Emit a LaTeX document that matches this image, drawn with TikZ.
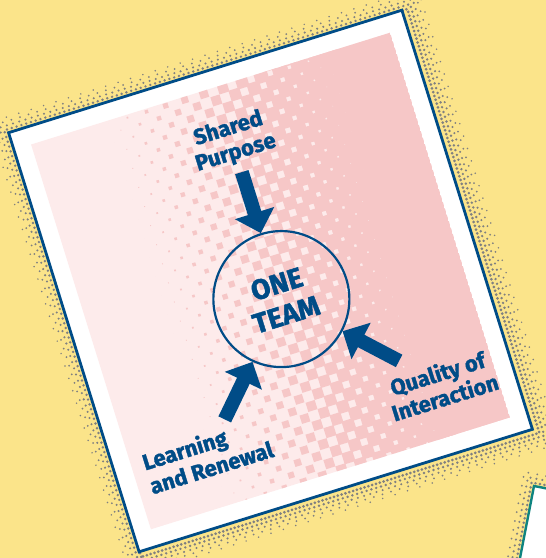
\documentclass[tikz,border=0pt]{standalone}
\usepackage{fontspec}
\setmainfont{Fira Sans}[BoldFeatures={FakeBold=1.6}]
\usetikzlibrary{arrows.meta}
\definecolor{teamblue}{RGB}{0,76,135}
\definecolor{paper}{RGB}{251,228,138}
\definecolor{pinkdark}{RGB}{246,199,199}
\definecolor{pinklight}{RGB}{253,235,235}
\definecolor{shadowgray}{RGB}{128,128,128}
\definecolor{cardteal}{RGB}{14,132,128}
\begin{document}
\begin{tikzpicture}[x=1pt,y=1pt,
  cardtext/.style={text=teamblue,font=\bfseries\fontsize{22}{25}\selectfont,inner sep=0pt},
  bigarrow/.style={draw=teamblue,line width=14pt,-{Triangle[length=21pt,width=40pt]}},
  dotrow/.style={shadowgray,line cap=round,dash pattern=on 0pt off #1}]
\useasboundingbox (0,0) rectangle (546,558);
\clip (0,0) rectangle (546,558);
\fill[paper] (0,0) rectangle (546,558);
\begin{scope}[shift={(534,72)},rotate=-11]
  \foreach \d/\w/\s in {3/2.8/4.5,7.5/2.4/6,12/2/9}
    \draw[dotrow=\s pt,line width=\w pt] (-\d,-200) -- (-\d,\d) -- (300,\d);
  \draw[cardteal,line width=2.4pt,fill=white] (0,0) rectangle (300,-200);
\end{scope}
\begin{scope}[shift={(270.5,277)},rotate=17.3,transform shape]
  \begin{scope}[shift={(3,-3)}]
    \foreach \d/\w/\s in {2.5/3/4,6.5/2.7/5,10.5/2.3/6.5,14.5/2/9,18.5/1.7/13}
      \draw[dotrow=\s pt,line width=\w pt] (-206-\d,-219.5-\d) rectangle (206+\d,219.5+\d);
  \end{scope}
  \draw[teamblue,line width=2.8pt,fill=white] (-206,-219.5) rectangle (206,219.5);
  \begin{scope}
    \clip (-188,-201.5) rectangle (188,201.5);
    \fill[pinklight] (-188,-201.5) rectangle (188,201.5);
    \fill[pinkdark] (122,-201.5) rectangle (188,201.5);
    \foreach \i in {0,...,23}{
      \pgfmathsetmacro\hx{-108+10*\i}
      \pgfmathsetmacro\hs{20*\i/23}
      \pgfmathsetmacro\hoff{10*mod(\i,2)}
      \foreach \j in {0,...,20}
        \fill[pinkdark] (\hx-\hs/2,-201.5+\hoff+20*\j-\hs/2) rectangle ++(\hs,\hs);
    }
  \end{scope}
  \node[draw=teamblue,line width=2.2pt,circle,minimum size=136pt,inner sep=0pt,
        text=teamblue,font=\bfseries\fontsize{28}{32}\selectfont,align=center] (team) at (5,-20.5) {ONE\\TEAM};
  \node[cardtext,align=center] (shared) at (5,145) {Shared\\Purpose};
  \node[cardtext,align=center] (quality) at (132,-150) {Quality of\\Interaction};
  \node[cardtext,align=left,anchor=west] (learning) at (-176,-147.5) {Learning\\and Renewal};
  \path (team.center) ++(90:133) coordinate (sharedend);
  \path (team.center) ++(-45:133) coordinate (qualityend);
  \path (team.center) ++(-132.5:133) coordinate (learningend);
  \draw[bigarrow] (sharedend) -- (team.90);
  \draw[bigarrow] (qualityend) -- (team.-45);
  \draw[bigarrow] (learningend) -- (team.-132.5);
\end{scope}
\end{tikzpicture}
\end{document}
